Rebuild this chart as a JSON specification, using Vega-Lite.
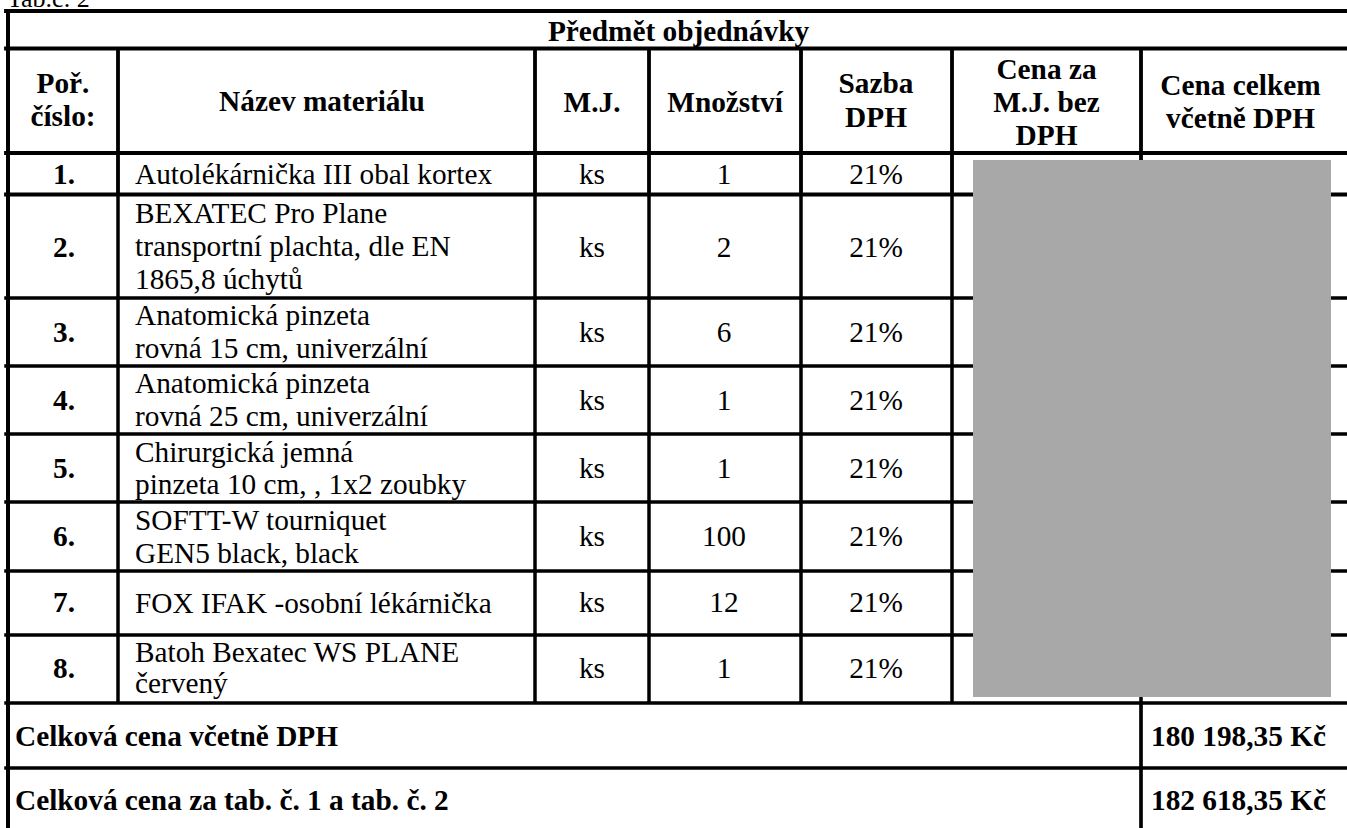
{
  "$schema": "https://vega.github.io/schema/vega-lite/v6.json",
  "width": 1347,
  "height": 828,
  "padding": 0,
  "autosize": {"type": "none"},
  "background": "white",
  "config": {
    "view": {"stroke": null},
    "text": {"font": "Liberation Serif", "fontSize": 29.3, "color": "black", "baseline": "alphabetic"}
  },
  "datasets": {
    "hlines": [
      {"y": 11, "x1": 6, "x2": 1347, "w": "thick"},
      {"y": 48.5, "x1": 6, "x2": 1347, "w": "thick"},
      {"y": 153, "x1": 6, "x2": 1347, "w": "thick"},
      {"y": 194.5, "x1": 6, "x2": 1347, "w": "thick"},
      {"y": 298, "x1": 6, "x2": 1347, "w": "thin"},
      {"y": 366, "x1": 6, "x2": 1347, "w": "thin"},
      {"y": 434, "x1": 6, "x2": 1347, "w": "thin"},
      {"y": 502, "x1": 6, "x2": 1347, "w": "thin"},
      {"y": 571, "x1": 6, "x2": 1347, "w": "thin"},
      {"y": 635, "x1": 6, "x2": 1347, "w": "thin"},
      {"y": 703, "x1": 6, "x2": 1347, "w": "thin"},
      {"y": 768, "x1": 6, "x2": 1347, "w": "thin"}
    ],
    "vlines": [
      {"x": 8, "y1": 9, "y2": 828, "w": "border"},
      {"x": 118, "y1": 48.5, "y2": 194.5, "w": "thick"},
      {"x": 118, "y1": 194.5, "y2": 703, "w": "thin"},
      {"x": 535, "y1": 48.5, "y2": 194.5, "w": "thick"},
      {"x": 535, "y1": 194.5, "y2": 703, "w": "thin"},
      {"x": 649, "y1": 48.5, "y2": 194.5, "w": "thick"},
      {"x": 649, "y1": 194.5, "y2": 703, "w": "thin"},
      {"x": 801, "y1": 48.5, "y2": 194.5, "w": "thick"},
      {"x": 801, "y1": 194.5, "y2": 703, "w": "thin"},
      {"x": 952, "y1": 48.5, "y2": 194.5, "w": "thick"},
      {"x": 952, "y1": 194.5, "y2": 703, "w": "thin"},
      {"x": 1141, "y1": 48.5, "y2": 194.5, "w": "thick"},
      {"x": 1141, "y1": 194.5, "y2": 703, "w": "thin"},
      {"x": 1141, "y1": 703, "y2": 828, "w": "mid"}
    ],
    "redact": [
      {"x1": 973, "x2": 1331, "y1": 160, "y2": 697}
    ],
    "caption": [
      {"t": "Tab.č. 2", "x": 7, "y": 7}
    ],
    "texts": [
      {"t": "Předmět objednávky", "x": 678.5, "y": 40.5, "k": "bc"},
      {"t": "Poř.", "x": 63, "y": 93, "k": "bc"},
      {"t": "číslo:", "x": 63, "y": 126, "k": "bc"},
      {"t": "Název materiálu", "x": 322, "y": 111, "k": "bc"},
      {"t": "M.J.", "x": 592, "y": 112, "k": "bc"},
      {"t": "Množství", "x": 725, "y": 112, "k": "bc"},
      {"t": "Sazba", "x": 876, "y": 93, "k": "bc"},
      {"t": "DPH", "x": 876, "y": 127, "k": "bc"},
      {"t": "Cena za", "x": 1046.5, "y": 79, "k": "bc"},
      {"t": "M.J. bez", "x": 1046.5, "y": 112, "k": "bc"},
      {"t": "DPH", "x": 1046.5, "y": 145, "k": "bc"},
      {"t": "Cena celkem", "x": 1240.5, "y": 95, "k": "bc"},
      {"t": "včetně DPH", "x": 1240.5, "y": 128, "k": "bc"},
      {"t": "1.", "x": 64, "y": 184, "k": "bc"},
      {"t": "2.", "x": 64, "y": 257, "k": "bc"},
      {"t": "3.", "x": 64, "y": 342, "k": "bc"},
      {"t": "4.", "x": 64, "y": 410, "k": "bc"},
      {"t": "5.", "x": 64, "y": 478, "k": "bc"},
      {"t": "6.", "x": 64, "y": 546, "k": "bc"},
      {"t": "7.", "x": 64, "y": 612, "k": "bc"},
      {"t": "8.", "x": 64, "y": 678, "k": "bc"},
      {"t": "Autolékárnička III obal kortex", "x": 135, "y": 184, "k": "rl"},
      {"t": "BEXATEC Pro Plane", "x": 135, "y": 222.7, "k": "rl"},
      {"t": "transportní plachta, dle EN", "x": 135, "y": 256, "k": "rl"},
      {"t": "1865,8 úchytů", "x": 135, "y": 289, "k": "rl"},
      {"t": "Anatomická pinzeta", "x": 135, "y": 325, "k": "rl"},
      {"t": "rovná 15 cm, univerzální", "x": 135, "y": 357.5, "k": "rl"},
      {"t": "Anatomická pinzeta", "x": 135, "y": 392.7, "k": "rl"},
      {"t": "rovná 25 cm, univerzální", "x": 135, "y": 426, "k": "rl"},
      {"t": "Chirurgická jemná", "x": 135, "y": 461.7, "k": "rl"},
      {"t": "pinzeta 10 cm, , 1x2 zoubky", "x": 135, "y": 494, "k": "rl"},
      {"t": "SOFTT-W tourniquet", "x": 135, "y": 530, "k": "rl"},
      {"t": "GEN5 black, black", "x": 135, "y": 562.7, "k": "rl"},
      {"t": "FOX IFAK -osobní lékárnička", "x": 135, "y": 612.7, "k": "rl"},
      {"t": "Batoh Bexatec WS PLANE", "x": 135, "y": 661.7, "k": "rl"},
      {"t": "červený", "x": 135, "y": 693, "k": "rl"},
      {"t": "ks", "x": 592, "y": 184, "k": "rc"},
      {"t": "1", "x": 724, "y": 184, "k": "rc"},
      {"t": "21%", "x": 876, "y": 184, "k": "rc"},
      {"t": "ks", "x": 592, "y": 257, "k": "rc"},
      {"t": "2", "x": 724, "y": 257, "k": "rc"},
      {"t": "21%", "x": 876, "y": 257, "k": "rc"},
      {"t": "ks", "x": 592, "y": 342, "k": "rc"},
      {"t": "6", "x": 724, "y": 342, "k": "rc"},
      {"t": "21%", "x": 876, "y": 342, "k": "rc"},
      {"t": "ks", "x": 592, "y": 410, "k": "rc"},
      {"t": "1", "x": 724, "y": 410, "k": "rc"},
      {"t": "21%", "x": 876, "y": 410, "k": "rc"},
      {"t": "ks", "x": 592, "y": 478, "k": "rc"},
      {"t": "1", "x": 724, "y": 478, "k": "rc"},
      {"t": "21%", "x": 876, "y": 478, "k": "rc"},
      {"t": "ks", "x": 592, "y": 546, "k": "rc"},
      {"t": "100", "x": 724, "y": 546, "k": "rc"},
      {"t": "21%", "x": 876, "y": 546, "k": "rc"},
      {"t": "ks", "x": 592, "y": 612, "k": "rc"},
      {"t": "12", "x": 724, "y": 612, "k": "rc"},
      {"t": "21%", "x": 876, "y": 612, "k": "rc"},
      {"t": "ks", "x": 592, "y": 678, "k": "rc"},
      {"t": "1", "x": 724, "y": 678, "k": "rc"},
      {"t": "21%", "x": 876, "y": 678, "k": "rc"},
      {"t": "Celková cena včetně DPH", "x": 15, "y": 746, "k": "bl"},
      {"t": "180 198,35 Kč", "x": 1151, "y": 746, "k": "bl"},
      {"t": "Celková cena za tab. č. 1 a tab. č. 2", "x": 15, "y": 810, "k": "bl"},
      {"t": "182 618,35 Kč", "x": 1151, "y": 810, "k": "bl"}
    ]
  },
  "layer": [
    {
      "data": {"name": "redact"},
      "mark": {"type": "rect", "color": "#a8a8a8"},
      "encoding": {
        "x": {"field": "x1", "type": "quantitative", "scale": {"domain": [0, 1347], "nice": false, "zero": false}, "axis": null},
        "x2": {"field": "x2"},
        "y": {"field": "y1", "type": "quantitative", "scale": {"domain": [0, 828], "nice": false, "zero": false, "reverse": true}, "axis": null},
        "y2": {"field": "y2"}
      }
    },
    {
      "data": {"name": "hlines"},
      "mark": {"type": "rule", "color": "black", "strokeCap": "square"},
      "encoding": {
        "y": {"field": "y", "type": "quantitative", "scale": {"domain": [0, 828], "nice": false, "zero": false, "reverse": true}, "axis": null},
        "x": {"field": "x1", "type": "quantitative", "scale": {"domain": [0, 1347], "nice": false, "zero": false}, "axis": null},
        "x2": {"field": "x2"},
        "strokeWidth": {"field": "w", "type": "nominal", "scale": {"domain": ["border", "thick", "mid", "thin"], "range": [4, 3.5, 2.3, 1.5]}, "legend": null}
      }
    },
    {
      "data": {"name": "vlines"},
      "mark": {"type": "rule", "color": "black"},
      "encoding": {
        "x": {"field": "x", "type": "quantitative", "scale": {"domain": [0, 1347], "nice": false, "zero": false}, "axis": null},
        "y": {"field": "y1", "type": "quantitative", "scale": {"domain": [0, 828], "nice": false, "zero": false, "reverse": true}, "axis": null},
        "y2": {"field": "y2"},
        "strokeWidth": {"field": "w", "type": "nominal", "scale": {"domain": ["border", "thick", "mid", "thin"], "range": [4, 3.5, 2.3, 1.5]}, "legend": null}
      }
    },
    {
      "data": {"name": "redact"},
      "mark": {"type": "rect", "color": "#a8a8a8"},
      "encoding": {
        "x": {"field": "x1", "type": "quantitative", "axis": null},
        "x2": {"field": "x2"},
        "y": {"field": "y1", "type": "quantitative", "axis": null},
        "y2": {"field": "y2"}
      }
    },
    {
      "data": {"name": "caption"},
      "mark": {"type": "text", "align": "left", "fontSize": 26},
      "encoding": {
        "x": {"field": "x", "type": "quantitative", "axis": null},
        "y": {"field": "y", "type": "quantitative", "axis": null},
        "text": {"field": "t"}
      }
    },
    {
      "data": {"name": "texts"},
      "transform": [{"filter": "datum.k === 'bc'"}],
      "mark": {"type": "text", "align": "center", "fontWeight": "bold"},
      "encoding": {
        "x": {"field": "x", "type": "quantitative", "axis": null},
        "y": {"field": "y", "type": "quantitative", "axis": null},
        "text": {"field": "t"}
      }
    },
    {
      "data": {"name": "texts"},
      "transform": [{"filter": "datum.k === 'bl'"}],
      "mark": {"type": "text", "align": "left", "fontWeight": "bold"},
      "encoding": {
        "x": {"field": "x", "type": "quantitative", "axis": null},
        "y": {"field": "y", "type": "quantitative", "axis": null},
        "text": {"field": "t"}
      }
    },
    {
      "data": {"name": "texts"},
      "transform": [{"filter": "datum.k === 'rc'"}],
      "mark": {"type": "text", "align": "center"},
      "encoding": {
        "x": {"field": "x", "type": "quantitative", "axis": null},
        "y": {"field": "y", "type": "quantitative", "axis": null},
        "text": {"field": "t"}
      }
    },
    {
      "data": {"name": "texts"},
      "transform": [{"filter": "datum.k === 'rl'"}],
      "mark": {"type": "text", "align": "left"},
      "encoding": {
        "x": {"field": "x", "type": "quantitative", "axis": null},
        "y": {"field": "y", "type": "quantitative", "axis": null},
        "text": {"field": "t"}
      }
    }
  ]
}
